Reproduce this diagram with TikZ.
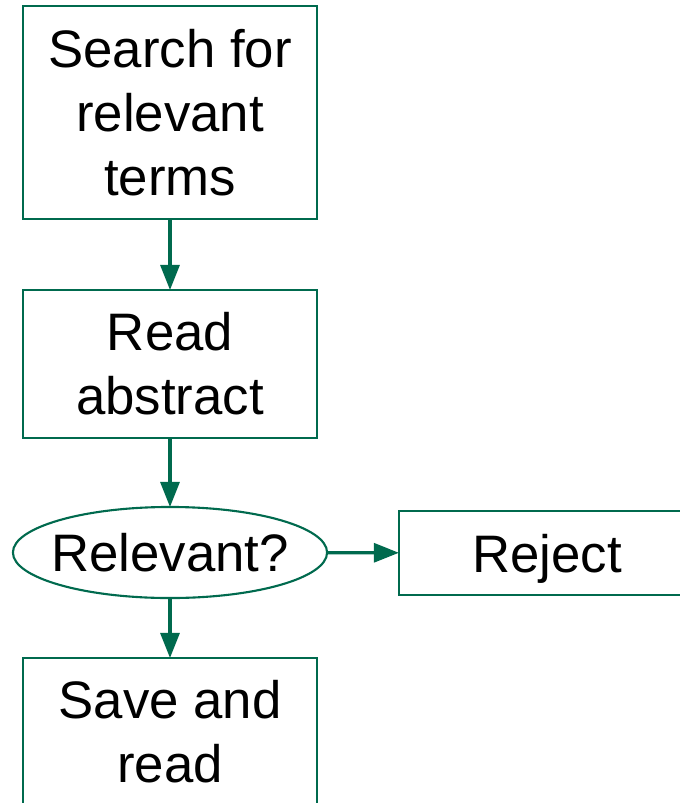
\documentclass[tikz,border=0pt]{standalone}
\usepackage{fontspec}
\setmainfont{Liberation Sans}
\usetikzlibrary{shapes.geometric,arrows.meta}
\definecolor{flowgreen}{RGB}{0,106,78}
\tikzset{
  lbl/.style={font=\fontsize{15}{18.2}\selectfont, align=center, text=black},
  stepbox/.style={lbl, draw=flowgreen, line width=0.6pt, fill=white, inner sep=0pt, outer sep=0pt,
    minimum width=2.94cm},
  decision/.style={lbl, ellipse, draw=flowgreen, line width=0.6pt, fill=white, inner sep=0pt, outer sep=0pt,
    minimum width=3.14cm, minimum height=0.91cm},
  flow/.style={draw=flowgreen, line width=0.9pt, -{Triangle[length=0.25cm,width=0.19cm]}}
}
\begin{document}
\begin{tikzpicture}[x=0.01cm,y=-0.01cm]
\useasboundingbox (0,0) rectangle (680,803);
\fill[white] (0,0) rectangle (680,803);
\clip (0,0) rectangle (680,803);
\node[stepbox, minimum height=2.13cm] (search) at (170,112.5) {Search for\\relevant\\terms};
\node[stepbox, minimum height=1.48cm] (abstract) at (170,364) {Read\\abstract};
\node[decision] (relevant) at (170,552.5) {\makebox[0pt]{Relevant?}};
\node[stepbox, minimum width=2.96cm, minimum height=0.84cm, text depth=0pt] (reject) at (547,553) {Reject};
\node[stepbox, minimum height=1.48cm] (save) at (170,732) {Save and\\read};
\draw[flow] (search) -- (abstract);
\draw[flow] (abstract) -- (relevant);
\draw[flow] (relevant) -- (save);
\draw[flow] (relevant) -- (reject);
\end{tikzpicture}
\end{document}
